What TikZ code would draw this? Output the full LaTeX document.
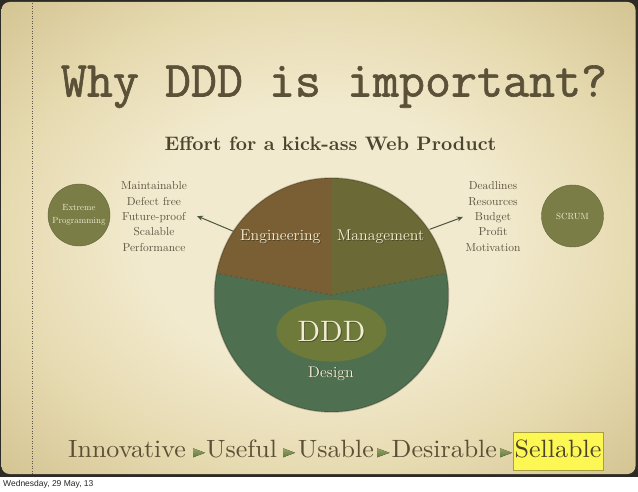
\documentclass[tikz,border=0pt]{standalone}
\usepackage{fontspec}
\setmainfont[BoldFont=lmroman10-bold.otf]{lmroman10-regular.otf}
\newfontfamily\titlefont[FakeBold=1.2]{Latin Modern Mono}
\newfontfamily\rowfont[FakeStretch=1.04]{lmroman10-regular.otf}
\newfontfamily\datefont{Liberation Sans}
\usetikzlibrary{arrows.meta,calc,shapes.geometric}

\definecolor{framec}{HTML}{2D2B26}
\definecolor{bgin}{HTML}{F2EACE}
\definecolor{bgmid}{HTML}{E6DAB0}
\definecolor{bgout}{HTML}{D3C391}
\definecolor{dotc}{HTML}{5D5546}
\definecolor{titlec}{HTML}{5B5139}
\definecolor{effortc}{HTML}{4D4430}
\definecolor{listc}{HTML}{5E5442}
\definecolor{rowc}{HTML}{5B5036}
\definecolor{creamc}{HTML}{F2ECD2}
\definecolor{engc}{HTML}{7A5E34}
\definecolor{mgmc}{HTML}{6B6A37}
\definecolor{desc}{HTML}{4E7050}
\definecolor{dddc}{HTML}{6D7A3A}
\definecolor{methodc}{HTML}{7B7D46}
\definecolor{arrowc}{HTML}{4D5440}
\definecolor{trilight}{HTML}{93A464}
\definecolor{tridark}{HTML}{66783E}
\definecolor{sellfill}{HTML}{FCF752}
\definecolor{selldraw}{HTML}{A8A040}
\definecolor{shadowc}{HTML}{2E2A18}

\pgfdeclareradialshading{slidebg}{\pgfpoint{0bp}{0bp}}{color(0bp)=(bgin); color(14bp)=(bgin); color(25bp)=(bgmid); color(36bp)=(bgout); color(50bp)=(bgout)}

\begin{document}
\begin{tikzpicture}[x=1pt,y=1pt,
  titletext/.style={font=\titlefont\fontsize{50.5}{50.5}\selectfont, text=titlec, inner sep=0, anchor=base},
  listtext/.style={align=center, font=\fontsize{11.5}{15.3}\selectfont, text=listc, inner sep=0},
  method/.style={circle, fill=methodc, draw=methodc!80!black, line width=0.4pt, minimum size=62pt, inner sep=0, align=center, text=creamc, font=\fontsize{8.9}{12.6}\selectfont},
  pielabel/.style={font=\fontsize{15.5}{16}\selectfont, text=creamc, inner sep=0, anchor=base},
  pieshadow/.style={font=\fontsize{15.5}{16}\selectfont, text=shadowc, opacity=0.55, inner sep=0, anchor=base},
  conn/.style={draw=arrowc, line width=1pt, -{Stealth[length=6pt,width=5pt]}},
  rowtext/.style={font=\rowfont\fontsize{25}{25}\selectfont, text=rowc, inner sep=0},
  tri/.style={top color=trilight, bottom color=tridark},
  sellbox/.style={fill=sellfill, draw=selldraw, line width=0.8pt}
]
\useasboundingbox (0,0) rectangle (638,491);
% background and slide
\fill[white] (0,0) rectangle (638,491);
\fill[framec] (0,14) rectangle (638,491);
\shade[shading=slidebg, rounded corners=8pt] (1.5,17) rectangle (635.5,489);
\draw[dotc, line width=0.9pt, dash pattern=on 0.9pt off 1.6pt] (32,17) -- (32,489);

% title
\node[titletext] (title) at (334,394.5) {Why DDD is important?};
\node[anchor=base, inner sep=0, font=\bfseries\fontsize{19.5}{20}\selectfont, text=effortc] (effort) at (330.5,340.3) {Effort for a kick-ass Web Product};

% pie
\coordinate (pc) at (331.5,196);
\fill[desc] (pc) -- ++(169.3:117) arc[start angle=169.3, end angle=370.7, radius=117] -- cycle;
\fill[engc] (pc) -- ++(90:117) arc[start angle=90, end angle=169.3, radius=117] -- cycle;
\fill[mgmc] (pc) -- ++(10.7:117) arc[start angle=10.7, end angle=90, radius=117] -- cycle;
\draw[shadowc, opacity=0.35, line width=0.7pt] ($(pc)+(169.3:117)$) -- (pc) -- ($(pc)+(10.7:117)$) (pc) -- ($(pc)+(90:117)$);
\draw[shadowc, opacity=0.3, line width=1.4pt] (pc) circle[radius=117];

\node[ellipse, fill=dddc, minimum width=110pt, minimum height=61.6pt, inner sep=0] (dddshape) at (331.5,160.2) {};
\node[inner sep=0, anchor=base, text=shadowc, opacity=0.5, font=\fontsize{29.5}{30}\selectfont] (dddsh) at (332.3,148.5) {DDD};
\node[inner sep=0, anchor=base, text=creamc, font=\fontsize{29.5}{30}\selectfont] (ddd) at (331.5,149.3) {DDD};

\node[pieshadow] (engsh) at (281.1,249.5) {Engineering};
\node[pielabel] (eng) at (280.3,250.3) {Engineering};
\node[pieshadow] (mgmsh) at (381.5,249.5) {Management};
\node[pielabel] (mgm) at (380.7,250.3) {Management};
\node[pieshadow] (dessh) at (331.8,113.2) {Design};
\node[pielabel] (des) at (331,114) {Design};

% side lists and methods
\node[listtext] (englist) at (154,274.5) {Maintainable\\Defect free\\Future-proof\\Scalable\\Performance};
\node[listtext] (mgmlist) at (493,274.5) {Deadlines\\Resources\\Budget\\Profit\\Motivation};
\node[method] (xp) at (79,276) {Extreme\\Programming};
\node[method] (scrum) at (572.5,275) {SCRUM};

% arrows
\coordinate (engedge) at ($(pc)+(147:117)$);
\coordinate (mgmedge) at ($(pc)+(33.8:118)$);
\coordinate (engtip) at (197,275);
\coordinate (mgmtip) at (463,274);
\draw[conn] (engedge) -- (engtip);
\draw[conn] (mgmedge) -- (mgmtip);

% bottom row
\node[rowtext, anchor=base west] (innov) at (68,34) {Innovative};
\fill[tri] (193,33.7) -- (205,38.2) -- (193,42.7) -- cycle;
\node[rowtext, anchor=base west] (useful) at (206,34) {Useful};
\fill[tri] (283,33.7) -- (295,38.2) -- (283,42.7) -- cycle;
\node[rowtext, anchor=base east] (usable) at (374,34) {Usable};
\fill[tri] (377,33.7) -- (389.5,38.2) -- (377,42.7) -- cycle;
\node[rowtext, anchor=base west] (desir) at (391.5,34) {Desirable};
\fill[tri] (500,33.7) -- (512,38.2) -- (500,42.7) -- cycle;
\draw[sellbox] (513,21) rectangle (603,59);
\node[rowtext, anchor=base, text=rowc!85!black] (sell) at (558,34) {Sellable};

% date
\node[anchor=base west, inner sep=0, font=\datefont\fontsize{8.5}{9}\selectfont, text=black!85] (date) at (3,4.5) {Wednesday, 29 May, 13};
\end{tikzpicture}
\end{document}
